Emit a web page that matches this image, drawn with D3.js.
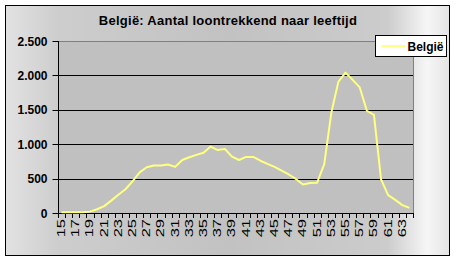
<!DOCTYPE html>
<html>
<head>
<meta charset="utf-8">
<script src="https://cdn.jsdelivr.net/npm/d3@7"></script>
<style>
  body { margin: 0; background: #fff; }
  svg { display: block; font-family: "Liberation Sans", Arial, sans-serif; }
</style>
</head>
<body>
<svg id="chart" width="454" height="260"></svg>
<script>
// leeftijden en aantallen
var ages = d3.range(15, 65);
var values = [10, 10, 10, 10, 20, 55, 100, 180, 265, 345,
              460, 590, 665, 690, 690, 705, 670, 770, 810, 845,
              875, 965, 915, 930, 820, 770, 815, 815, 760, 715,
              670, 615, 560, 495, 415, 435, 440, 710, 1460, 1910,
              2040, 1935, 1825, 1485, 1425, 490, 260, 190, 115, 75];
var yTicks = [0, 500, 1000, 1500, 2000, 2500];
var seriesName = "België";
var title = "België: Aantal loontrekkend naar leeftijd";

var svg = d3.select("#chart");
var fmt = function(v) { return d3.format(",")(v).replace(/,/g, "."); };

// achtergrond verloop
var defs = svg.append("defs");
var grad = defs.append("linearGradient").attr("id", "bg")
  .attr("x1", "0").attr("y1", "0").attr("x2", "1").attr("y2", "0");
grad.append("stop").attr("offset", "0%").attr("stop-color", "#e2e2e2");
grad.append("stop").attr("offset", "12%").attr("stop-color", "#cdcdcd");
grad.append("stop").attr("offset", "50%").attr("stop-color", "#c2c2c2");
grad.append("stop").attr("offset", "86%").attr("stop-color", "#cccccc");
grad.append("stop").attr("offset", "95%").attr("stop-color", "#f6f6f6");
grad.append("stop").attr("offset", "100%").attr("stop-color", "#e4e4e4");

svg.append("rect")
  .attr("x", 5.5).attr("y", 5.5).attr("width", 444).attr("height", 250)
  .attr("fill", "url(#bg)").attr("stroke", "#000").attr("stroke-width", 1);

var pLeft = 58, pRight = 413, pTop = 41, pBottom = 213;

var x = d3.scaleBand().domain(ages).range([pLeft, pRight]).padding(0);
var y = d3.scaleLinear().domain([0, 2500]).range([pBottom, pTop]);

// plotgebied
svg.append("rect")
  .attr("x", pLeft).attr("y", pTop).attr("width", pRight - pLeft).attr("height", pBottom - pTop)
  .attr("fill", "#c0c0c0");

// rasterlijnen
svg.append("g").selectAll("line")
  .data(yTicks.filter(function(d) { return d > 0 && d < 2500; }))
  .enter().append("line")
  .attr("x1", pLeft).attr("x2", pRight)
  .attr("y1", function(d) { return Math.round(y(d)) + 0.5; })
  .attr("y2", function(d) { return Math.round(y(d)) + 0.5; })
  .attr("stroke", "#000").attr("stroke-width", 1);

// rand boven en rechts
svg.append("path")
  .attr("d", "M" + pLeft + "," + (pTop + 0.5) + "H" + (pRight + 0.5) + "V" + pBottom)
  .attr("fill", "none").attr("stroke", "#808080").attr("stroke-width", 1);

// y-as
var yAxis = svg.append("g").attr("transform", "translate(" + (pLeft + 0.5) + ",0)");
yAxis.append("line").attr("x1", 0).attr("x2", 0).attr("y1", pTop).attr("y2", pBottom + 1).attr("stroke", "#000");
yAxis.selectAll(".tk").data(yTicks).enter().append("line")
  .attr("x1", -6).attr("x2", 0)
  .attr("y1", function(d) { return Math.round(y(d)) + 0.5; })
  .attr("y2", function(d) { return Math.round(y(d)) + 0.5; })
  .attr("stroke", "#000");
yAxis.selectAll("text").data(yTicks).enter().append("text")
  .attr("x", -11)
  .attr("y", function(d) { return y(d) + 4.5; })
  .attr("text-anchor", "end")
  .attr("font-size", "12px").attr("font-weight", "bold")
  .text(fmt);

// x-as
var xAxis = svg.append("g");
xAxis.append("line").attr("x1", pLeft).attr("x2", pRight + 1)
  .attr("y1", pBottom + 0.5).attr("y2", pBottom + 0.5).attr("stroke", "#000");
var edges = ages.map(function(a) { return x(a); }).concat([pRight]);
xAxis.selectAll(".tk").data(edges).enter().append("line")
  .attr("x1", function(d) { return Math.round(d) + 0.5; })
  .attr("x2", function(d) { return Math.round(d) + 0.5; })
  .attr("y1", pBottom).attr("y2", pBottom + 5)
  .attr("stroke", "#000");
xAxis.selectAll("text").data(ages.filter(function(a) { return a % 2 == 1; }))
  .enter().append("text")
  .attr("transform", function(d) {
    return "translate(" + (x(d) + x.bandwidth() / 2 + 3.5) + "," + (pBottom + 6) + ") rotate(-90) scale(1.65,1)";
  })
  .attr("text-anchor", "end")
  .attr("font-size", "10px")
  .text(function(d) { return d; });

// lijn
var line = d3.line()
  .x(function(d, i) { return x(ages[i]) + x.bandwidth() / 2; })
  .y(function(d) { return y(d); });
svg.append("path").datum(values)
  .attr("d", line)
  .attr("fill", "none").attr("stroke", "#ffff80").attr("stroke-width", 2)
  .attr("stroke-linejoin", "round");

// titel
svg.append("text")
  .attr("x", 228).attr("y", 25)
  .attr("text-anchor", "middle")
  .attr("font-size", "13px").attr("font-weight", "bold")
  .attr("letter-spacing", "0.25px")
  .text(title);

// legenda
var lg = svg.append("g").attr("transform", "translate(375.5,35.5)");
lg.append("rect").attr("width", 71).attr("height", 21)
  .attr("fill", "#fff").attr("stroke", "#000");
lg.append("line").attr("x1", 6).attr("x2", 30).attr("y1", 10.5).attr("y2", 10.5)
  .attr("stroke", "#ffff80").attr("stroke-width", 2);
lg.append("text").attr("x", 32).attr("y", 15)
  .attr("font-size", "12px").attr("font-weight", "bold")
  .text(seriesName);
</script>
</body>
</html>
